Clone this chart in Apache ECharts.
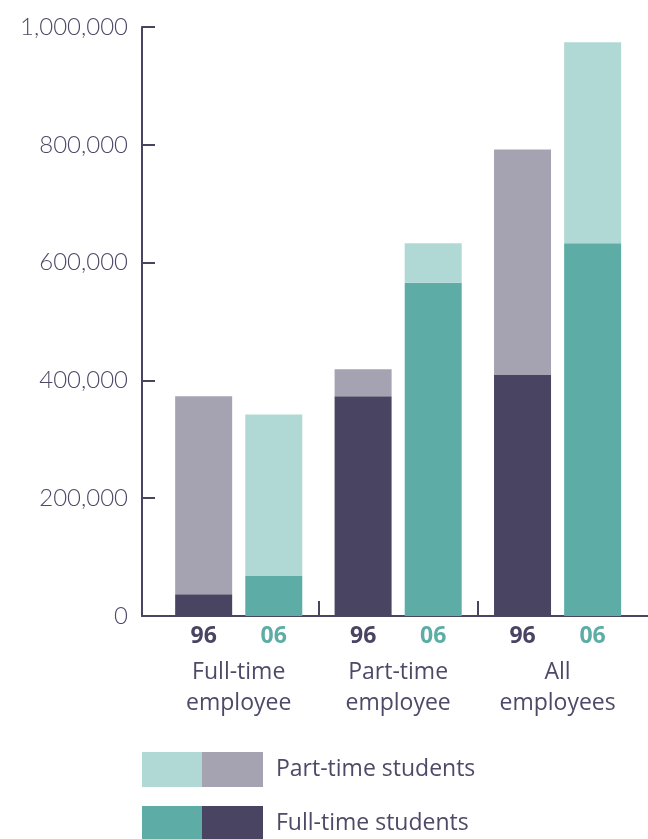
<!DOCTYPE html>
<html>
<head>
<meta charset="utf-8">
<title>Students by employment status, 1996 and 2006</title>
<script src="https://cdn.jsdelivr.net/npm/echarts@6/dist/echarts.min.js"></script>
<style>
  html, body { margin: 0; padding: 0; background: #ffffff; }
  #chart { width: 648px; height: 839px; }
</style>
</head>
<body>
<div id="chart"></div>
<script>
// Employment groups along the bottom
const categories = ['Full-time\nemployee', 'Part-time\nemployee', 'All\nemployees'];
// Survey years shown under each pair of bars
const years = ['96', '06'];
// Students (number of people), 1996
const fullTime96 = [37000, 373000, 410000];
const partTime96 = [336000, 46000, 382000];
// Students (number of people), 2006
const fullTime06 = [68000, 566000, 633000];
const partTime06 = [274000, 67000, 341000];
// Value axis range and step
const yMax = 1000000;
const yStep = 200000;
const seriesNames = ['Part-time students', 'Full-time students'];

const DARK = '#4a4463';
const GREY = '#a5a3b1';
const TEAL = '#5dada6';
const LIGHT_TEAL = '#b0d8d4';
const TEXT = '#4f4968';

const chart = echarts.init(document.getElementById('chart'), null, { renderer: 'canvas' });

const frameLeft = 142, barsLeft = 159, barsRight = 10.7, plotTop = 27, plotBottom = 223;

chart.setOption({
  animation: false,
  backgroundColor: '#ffffff',
  grid: [
    { left: frameLeft, right: 0, top: plotTop, bottom: plotBottom, outerBoundsMode: 'none' },
    { left: barsLeft, right: barsRight, top: plotTop, bottom: plotBottom, outerBoundsMode: 'none' },
    { left: barsLeft, right: barsRight, top: 601, bottom: plotBottom, outerBoundsMode: 'none' }
  ],
  xAxis: [
    {
      gridIndex: 0, type: 'value', min: 0, max: 1,
      axisLine: { show: true, lineStyle: { color: DARK, width: 2 } },
      axisTick: { show: false }, axisLabel: { show: false }, splitLine: { show: false }
    },
    {
      gridIndex: 1, type: 'category', data: categories,
      axisLine: { show: false }, axisTick: { show: false }, splitLine: { show: false },
      axisLabel: {
        margin: 0,
        interval: 0,
        formatter: function (value) {
          const head = '{y96|' + years[0] + '}{y06|' + years[1] + '}';
          const rest = value.split('\n').map(function (s) { return '{t|' + s + '}'; }).join('\n');
          return head + '\n' + rest;
        },
        rich: {
          y96: { width: 70, align: 'center', fontSize: 23, fontWeight: 'bold', color: DARK, lineHeight: 41, fontFamily: 'Open Sans' },
          y06: { width: 70, align: 'center', fontSize: 23, fontWeight: 'bold', color: TEAL, lineHeight: 41, fontFamily: 'Open Sans' },
          t: { fontSize: 23, lineHeight: 31, color: TEXT, fontFamily: 'Open Sans' }
        }
      }
    },
    {
      gridIndex: 2, type: 'category', data: categories,
      axisLine: { show: false }, axisTick: { show: false }, axisLabel: { show: false },
      splitLine: { show: true, showMinLine: false, showMaxLine: false, lineStyle: { color: DARK, width: 2 } }
    }
  ],
  yAxis: [
    {
      gridIndex: 0, type: 'value', min: 0, max: yMax, interval: yStep,
      axisLine: { show: true, lineStyle: { color: DARK, width: 2 } },
      axisTick: { show: true, inside: true, length: 13, lineStyle: { color: DARK, width: 2 } },
      splitLine: { show: false },
      axisLabel: {
        margin: 14,
        color: TEXT,
        fontSize: 24,
        fontWeight: 300,
        fontFamily: 'Lato',
        padding: [0, 0, 12, 0],
        formatter: function (v) { return v.toLocaleString('en-US'); }
      }
    },
    { gridIndex: 1, type: 'value', min: 0, max: yMax, show: false },
    { gridIndex: 2, type: 'value', min: 0, max: 1, show: false }
  ],
  legend: [
    {
      orient: 'vertical', left: frameLeft, top: 752, height: 120, padding: 0,
      itemWidth: 60, itemHeight: 35, itemGap: 19, icon: 'rect',
      formatter: function () { return ''; },
      data: [
        { name: seriesNames[0], itemStyle: { color: LIGHT_TEAL } },
        { name: seriesNames[1], itemStyle: { color: TEAL } }
      ]
    },
    {
      orient: 'vertical', left: 202, top: 752, height: 120, padding: 0,
      itemWidth: 61, itemHeight: 35, itemGap: 19, icon: 'rect',
      textStyle: { fontSize: 23, color: TEXT, fontFamily: 'Open Sans', padding: [2, 0, 0, 8] },
      data: [
        { name: seriesNames[0], itemStyle: { color: GREY } },
        { name: seriesNames[1], itemStyle: { color: DARK } }
      ]
    }
  ],
  series: [
    {
      name: seriesNames[1], type: 'bar', stack: 'y96', xAxisIndex: 1, yAxisIndex: 1,
      barWidth: 57, barGap: '23%', data: fullTime96, itemStyle: { color: DARK }
    },
    {
      name: seriesNames[0], type: 'bar', stack: 'y96', xAxisIndex: 1, yAxisIndex: 1,
      barWidth: 57, barGap: '23%', data: partTime96, itemStyle: { color: GREY }
    },
    {
      name: seriesNames[1], type: 'bar', stack: 'y06', xAxisIndex: 1, yAxisIndex: 1,
      barWidth: 57, barGap: '23%', data: fullTime06, itemStyle: { color: TEAL }
    },
    {
      name: seriesNames[0], type: 'bar', stack: 'y06', xAxisIndex: 1, yAxisIndex: 1,
      barWidth: 57, barGap: '23%', data: partTime06, itemStyle: { color: LIGHT_TEAL }
    }
  ]
});
</script>
</body>
</html>
